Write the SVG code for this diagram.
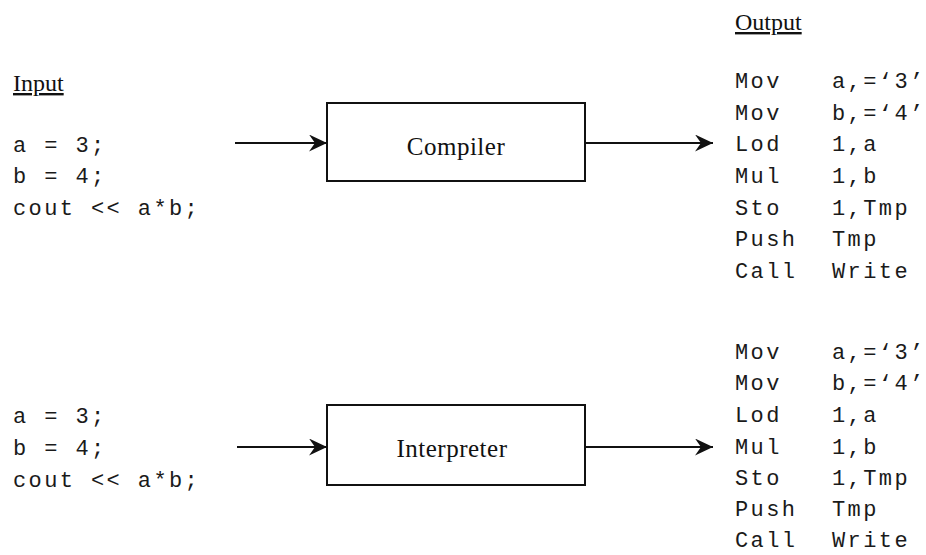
<svg xmlns="http://www.w3.org/2000/svg" width="926" height="555" viewBox="0 0 926 555">
  <style>
    .mono { font-family: "Liberation Mono", "Courier New", monospace; font-size: 22px; letter-spacing: 2.4px; fill: #1a1a1a; }
    .serif { font-family: "Liberation Serif", "Times New Roman", serif; font-size: 25px; letter-spacing: 0.5px; fill: #111; }
    .head { font-family: "Liberation Serif", "Times New Roman", serif; font-size: 24px; fill: #111; text-decoration: underline; }
    .box { fill: #fff; stroke: #111; stroke-width: 2; }
    .conn { stroke: #111; stroke-width: 2; fill: none; }
  </style>
  <defs>
    <marker id="arr" markerUnits="userSpaceOnUse" markerWidth="19" markerHeight="17" refX="18" refY="8.5" orient="auto">
      <path d="M0,0 L18,8.5 L0,17 L6,8.5 Z" fill="#111"/>
    </marker>
  </defs>
  <rect width="926" height="555" fill="#fff"/>

  <g id="input-labels">
    <text class="head" x="13" y="91">Input</text>
    <text class="head" x="735" y="30">Output</text>
  </g>

  <g id="input-top">
    <text class="mono" x="13" y="152">a = 3;</text>
    <text class="mono" x="13" y="183">b = 4;</text>
    <text class="mono" x="13" y="215">cout &lt;&lt; a*b;</text>
  </g>

  <g id="compiler">
    <rect class="box" x="327" y="103" width="258" height="78"/>
    <text class="serif" x="456" y="155" text-anchor="middle">Compiler</text>
  </g>

  <g id="output-top">
    <text class="mono" x="735" y="88">Mov</text><text class="mono" x="832" y="88">a,=‘3’</text>
    <text class="mono" x="735" y="120">Mov</text><text class="mono" x="832" y="120">b,=‘4’</text>
    <text class="mono" x="735" y="151">Lod</text><text class="mono" x="832" y="151">1,a</text>
    <text class="mono" x="735" y="183">Mul</text><text class="mono" x="832" y="183">1,b</text>
    <text class="mono" x="735" y="215">Sto</text><text class="mono" x="832" y="215">1,Tmp</text>
    <text class="mono" x="735" y="246">Push</text><text class="mono" x="832" y="246">Tmp</text>
    <text class="mono" x="735" y="278">Call</text><text class="mono" x="832" y="278">Write</text>
  </g>

  <g id="input-bottom">
    <text class="mono" x="13" y="423">a = 3;</text>
    <text class="mono" x="13" y="455">b = 4;</text>
    <text class="mono" x="13" y="487">cout &lt;&lt; a*b;</text>
  </g>

  <g id="interpreter">
    <rect class="box" x="327" y="405" width="258" height="80"/>
    <text class="serif" x="452" y="457" text-anchor="middle">Interpreter</text>
  </g>

  <g id="output-bottom">
    <text class="mono" x="735" y="359">Mov</text><text class="mono" x="832" y="359">a,=‘3’</text>
    <text class="mono" x="735" y="390">Mov</text><text class="mono" x="832" y="390">b,=‘4’</text>
    <text class="mono" x="735" y="422">Lod</text><text class="mono" x="832" y="422">1,a</text>
    <text class="mono" x="735" y="454">Mul</text><text class="mono" x="832" y="454">1,b</text>
    <text class="mono" x="735" y="485">Sto</text><text class="mono" x="832" y="485">1,Tmp</text>
    <text class="mono" x="735" y="516">Push</text><text class="mono" x="832" y="516">Tmp</text>
    <text class="mono" x="735" y="547">Call</text><text class="mono" x="832" y="547">Write</text>
  </g>

  <g id="connectors">
    <line class="conn" x1="235" y1="143" x2="327" y2="143" marker-end="url(#arr)"/>
    <line class="conn" x1="585" y1="143" x2="713" y2="143" marker-end="url(#arr)"/>
    <line class="conn" x1="237" y1="447" x2="327" y2="447" marker-end="url(#arr)"/>
    <line class="conn" x1="585" y1="447" x2="713" y2="447" marker-end="url(#arr)"/>
  </g>
</svg>
